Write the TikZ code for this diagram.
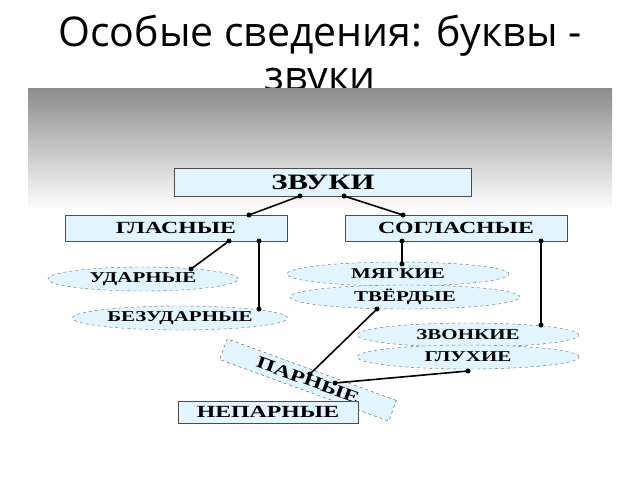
\documentclass[tikz,border=0pt]{standalone}
\usepackage{fontspec}
\setmainfont{Liberation Serif}[FakeStretch=1.4]
\newfontfamily\titlefont{Open Sans}
\usetikzlibrary{shapes.geometric}

\begin{document}
\begin{tikzpicture}[x=1pt,y=-1pt,
  box/.style={draw=black!70,fill=cyan!12,minimum height=26pt,inner sep=0pt,font=\bfseries\fontsize{17}{17}\selectfont},
  oval/.style={ellipse,draw=black!60,dashed,fill=cyan!12,minimum height=24pt,inner sep=0pt,font=\bfseries\fontsize{15}{15}\selectfont},
  link/.style={line width=1.6pt},
  dot/.style={circle,fill=black,inner sep=0pt,minimum size=5pt}]
\useasboundingbox (0,0) rectangle (640,480);
%
\node[font=\titlefont\fontsize{41}{44}\selectfont,align=center] (title) at (320,58)
  {Особые сведения: буквы -\\звуки};
\shade[top color=black!45,bottom color=white] (28,88) rectangle (612,210);
%
\node[box,minimum width=297pt,minimum height=28pt,font=\bfseries\fontsize{22}{22}\selectfont] (zvuki) at (323,182) {ЗВУКИ};
\node[box,minimum width=222pt] (glas) at (176,228) {ГЛАСНЫЕ};
\node[box,minimum width=222pt] (sogl) at (456,228) {СОГЛАСНЫЕ};
\node[oval,minimum width=190pt] (udar) at (143,279) {УДАРНЫЕ};
\node[oval,minimum width=215pt] (bezud) at (180,318) {БЕЗУДАРНЫЕ};
\node[oval,minimum width=222pt] (myag) at (398,274) {МЯГКИЕ};
\node[oval,minimum width=230pt] (tverd) at (405,297) {ТВЁРДЫЕ};
\node[oval,minimum width=222pt] (zvon) at (468,335) {ЗВОНКИЕ};
\node[oval,minimum width=222pt] (gluh) at (468,357) {ГЛУХИЕ};
\node[box,dashed,minimum width=180pt,minimum height=22pt,rotate=-20] (par) at (308,380) {ПАРНЫЕ};
\node[box,minimum width=180pt,minimum height=22pt] (nepar) at (268,412) {НЕПАРНЫЕ};
%
\path (300,196) coordinate (z1) (344,196) coordinate (z2)
      (249,215) coordinate (g0) (229,241) coordinate (g1) (259,241) coordinate (g2)
      (403,215) coordinate (s0) (402,241) coordinate (s1) (541,241) coordinate (s2)
      (191,269) coordinate (u0) (259,309) coordinate (b0)
      (402,264) coordinate (m0) (541,325) coordinate (v0)
      (377,309) coordinate (t0) (468,371) coordinate (h0)
      (310,374) coordinate (p1) (335,383) coordinate (p2);
\foreach \a/\b in {z1/g0,z2/s0,g1/u0,g2/b0,s1/m0,s2/v0,t0/p1,p2/h0}
  \draw[link] (\a) node[dot]{} -- (\b) node[dot]{};
\end{tikzpicture}
\end{document}
